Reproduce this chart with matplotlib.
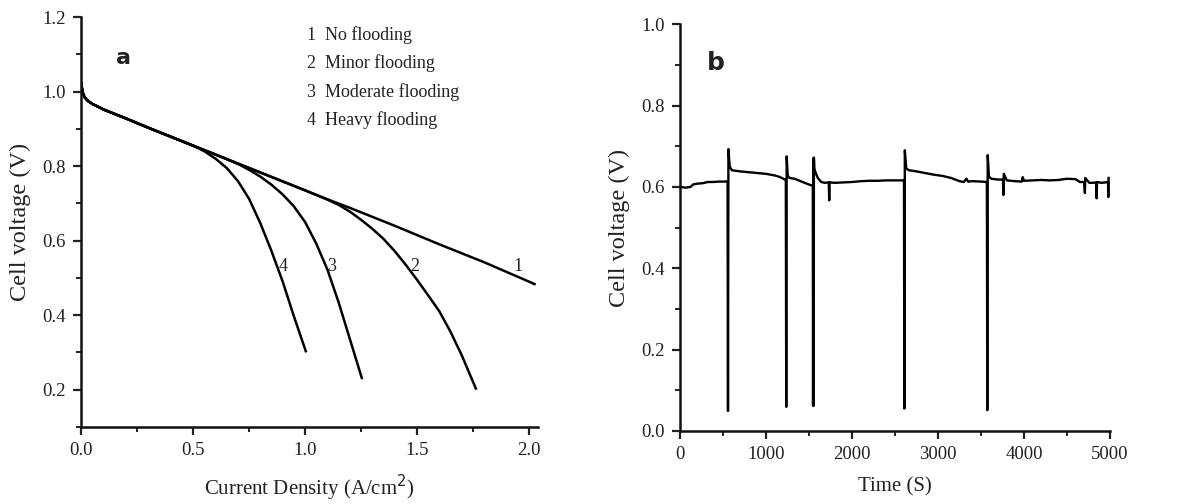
import matplotlib
matplotlib.use('Agg')
import matplotlib.pyplot as plt
from matplotlib.ticker import MultipleLocator

plt.rcParams['font.family'] = ['Liberation Serif', 'DejaVu Serif']
plt.rcParams['text.color'] = '#222222'
plt.rcParams['axes.labelcolor'] = '#222222'
plt.rcParams['xtick.color'] = '#222222'
plt.rcParams['ytick.color'] = '#222222'

# --- polarization curves (panel a) ---
j_common = [0.0, 0.003, 0.008, 0.015, 0.03, 0.05, 0.1, 0.2, 0.3, 0.4, 0.5]
v_common = [1.025, 1.010, 0.995, 0.985, 0.975, 0.967, 0.952, 0.928, 0.903, 0.879, 0.855]

j_no_flood = [0.6, 0.7, 0.8, 0.9, 1.0, 1.1, 1.2, 1.3, 1.4, 1.5, 1.6, 1.7, 1.8, 1.9, 2.0, 2.03]
v_no_flood = [0.831, 0.807, 0.783, 0.759, 0.735, 0.711, 0.688, 0.664, 0.640, 0.615, 0.590, 0.566, 0.542, 0.516, 0.490, 0.482]

j_minor = [0.6, 0.7, 0.8, 0.9, 1.0, 1.1, 1.15, 1.2, 1.25, 1.3, 1.35, 1.4, 1.45, 1.5, 1.55, 1.6, 1.65, 1.7, 1.765]
v_minor = [0.831, 0.807, 0.783, 0.759, 0.735, 0.710, 0.696, 0.678, 0.656, 0.632, 0.605, 0.572, 0.535, 0.495, 0.453, 0.410, 0.355, 0.292, 0.2]

j_moderate = [0.6, 0.65, 0.7, 0.75, 0.8, 0.85, 0.9, 0.95, 1.0, 1.05, 1.1, 1.15, 1.2, 1.255]
v_moderate = [0.831, 0.819, 0.806, 0.790, 0.772, 0.750, 0.724, 0.692, 0.650, 0.592, 0.522, 0.434, 0.336, 0.228]

j_heavy = [0.55, 0.6, 0.65, 0.7, 0.75, 0.8, 0.85, 0.9, 0.95, 1.005]
v_heavy = [0.840, 0.820, 0.795, 0.760, 0.712, 0.647, 0.572, 0.490, 0.397, 0.300]

legend_lines = ['1  No flooding', '2  Minor flooding', '3  Moderate flooding', '4  Heavy flooding']
curve_tags = ['1', '2', '3', '4']
tag_x = [1.95, 1.49, 1.12, 0.90]
tag_y = [0.53, 0.53, 0.53, 0.53]

# --- voltage vs time (panel b) ---
time_s = [0, 60, 120, 150, 200, 260, 320, 380, 450, 520, 550,
          555, 560, 575, 600, 700, 800, 900, 1000, 1100, 1150, 1200, 1228,
          1233, 1238, 1250, 1270, 1330, 1400, 1470, 1520, 1542,
          1545, 1549, 1552, 1555, 1560, 1575, 1600, 1640, 1680, 1728,
          1733, 1738, 1800, 1900, 2000, 2100, 2200, 2300, 2400, 2500, 2603,
          2608, 2613, 2630, 2660, 2750, 2850, 2950, 3050, 3150, 3250, 3300, 3330, 3350, 3400, 3500, 3568,
          3573, 3578, 3592, 3620, 3700, 3755,
          3760, 3765, 3800, 3900, 3975, 3985, 4000, 4100, 4200, 4300, 4400, 4500, 4600, 4650, 4700,
          4709, 4713, 4760, 4800, 4840,
          4845, 4850, 4900, 4950, 4978,
          4981, 4985]
voltage = [0.600, 0.598, 0.600, 0.606, 0.608, 0.609, 0.612, 0.612, 0.613, 0.613, 0.614,
           0.049, 0.693, 0.650, 0.641, 0.638, 0.636, 0.634, 0.632, 0.628, 0.625, 0.620, 0.617,
           0.059, 0.675, 0.628, 0.622, 0.620, 0.614, 0.608, 0.604, 0.603,
           0.062, 0.670, 0.062, 0.672, 0.645, 0.635, 0.622, 0.612, 0.610, 0.611,
           0.567, 0.611, 0.610, 0.611, 0.612, 0.614, 0.615, 0.615, 0.616, 0.616, 0.616,
           0.055, 0.690, 0.645, 0.641, 0.638, 0.634, 0.630, 0.627, 0.622, 0.614, 0.612, 0.620, 0.613, 0.614, 0.613, 0.612,
           0.051, 0.678, 0.625, 0.620, 0.618, 0.618,
           0.580, 0.632, 0.616, 0.614, 0.613, 0.624, 0.615, 0.616, 0.617, 0.616, 0.617, 0.620, 0.619, 0.612, 0.612,
           0.585, 0.622, 0.610, 0.610, 0.611,
           0.572, 0.612, 0.610, 0.611, 0.612,
           0.575, 0.622]

fig = plt.figure(figsize=(11.77, 5.04), dpi=100)
ax1 = fig.add_axes([0.069, 0.153, 0.388, 0.813])
ax2 = fig.add_axes([0.578, 0.145, 0.365, 0.807])


def style_axes(ax):
    for side in ['top', 'right']:
        ax.spines[side].set_visible(False)
    for side in ['left', 'bottom']:
        ax.spines[side].set_linewidth(1.8)
        ax.spines[side].set_color('#111111')
    ax.tick_params(which='major', direction='out', length=6, width=1.6, labelsize=13.5, pad=5)
    ax.tick_params(which='minor', direction='out', length=3.5, width=1.4)


# panel a
for js, vs in [(j_no_flood, v_no_flood), (j_minor, v_minor), (j_moderate, v_moderate), (j_heavy, v_heavy)]:
    ax1.plot(j_common + js, v_common + vs, color='black', lw=1.8, solid_capstyle='butt', solid_joinstyle='round')

for t, x, y in zip(curve_tags, tag_x, tag_y):
    ax1.text(x, y, t, fontsize=13, ha='center', va='center')

for i, s in enumerate(legend_lines):
    ax1.text(1.01, 1.152 - i * 0.076, s, fontsize=13, ha='left', va='center')

ax1.text(0.19, 1.09, 'a', fontsize=16, fontweight='bold', family=['DejaVu Sans'], ha='center', va='center')

ax1.set_xlim(0, 2.04)
ax1.set_ylim(0.1, 1.2)
ax1.xaxis.set_major_locator(MultipleLocator(0.5))
ax1.xaxis.set_minor_locator(MultipleLocator(0.25))
ax1.yaxis.set_major_locator(MultipleLocator(0.2))
ax1.yaxis.set_minor_locator(MultipleLocator(0.1))
ax1.set_yticks([0.2, 0.4, 0.6, 0.8, 1.0, 1.2])
ax1.set_xticks([0.0, 0.5, 1.0, 1.5, 2.0])
ax1.set_xlabel('Current Density (A/cm$^2$)', fontsize=15, labelpad=10)
ax1.set_ylabel('Cell voltage (V)', fontsize=17.5, labelpad=8)
style_axes(ax1)

# panel b
ax2.plot(time_s, voltage, color='black', lw=1.7)
ax2.text(410, 0.905, 'b', fontsize=18, fontweight='bold', family=['DejaVu Sans'], ha='center', va='center')
ax2.set_xlim(0, 5000)
ax2.set_ylim(0, 1.0)
ax2.xaxis.set_major_locator(MultipleLocator(1000))
ax2.xaxis.set_minor_locator(MultipleLocator(500))
ax2.yaxis.set_major_locator(MultipleLocator(0.2))
ax2.yaxis.set_minor_locator(MultipleLocator(0.1))
ax2.set_xlabel('Time (S)', fontsize=15, labelpad=10)
ax2.set_ylabel('Cell voltage (V)', fontsize=17.5, labelpad=8)
style_axes(ax2)

fig.savefig('out.png', dpi=100)
